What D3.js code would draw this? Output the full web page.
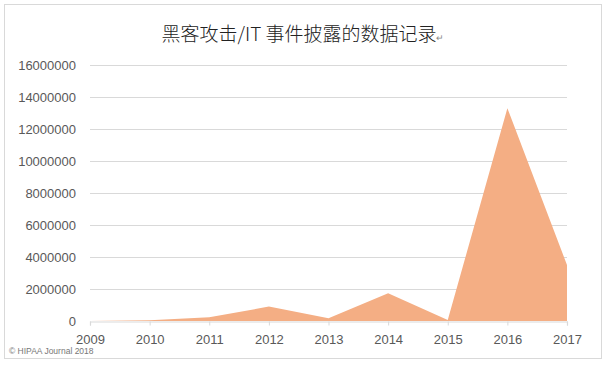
<!DOCTYPE html>
<html>
<head>
<meta charset="utf-8">
<script src="https://cdn.jsdelivr.net/npm/d3@7"></script>
<style>
  body { margin: 0; background: #fff; }
  text { font-family: "Liberation Sans", "DejaVu Sans", sans-serif; }
</style>
</head>
<body>
<div id="chart"></div>
<script>
// data
const years = [2009, 2010, 2011, 2012, 2013, 2014, 2015, 2016, 2017];
const records = [0, 50000, 230000, 900000, 170000, 1730000, 60000, 13300000, 3500000];
const yTicks = [0, 2000000, 4000000, 6000000, 8000000, 10000000, 12000000, 14000000, 16000000];

const width = 607, height = 365;
const margin = {top: 65, right: 40, bottom: 44, left: 90};

let svg = d3.select("#chart")
    .append("svg")
    .attr("width", width)
    .attr("height", height);

// outer frame
svg.append("rect")
    .attr("x", 4.5).attr("y", 4.5)
    .attr("width", 597).attr("height", 354)
    .attr("fill", "#fff")
    .attr("stroke", "#d9d9d9");

let x = d3.scaleLinear()
    .domain([2009, 2017])
    .range([margin.left, width - margin.right]);

let y = d3.scaleLinear()
    .domain([0, 16000000])
    .range([height - margin.bottom, margin.top]);

// gridlines
svg.append("g")
    .selectAll("line")
    .data(yTicks.slice(1))
    .enter()
    .append("line")
    .attr("x1", margin.left)
    .attr("x2", width - margin.right)
    .attr("y1", d => Math.round(y(d)) + 0.5)
    .attr("y2", d => Math.round(y(d)) + 0.5)
    .attr("stroke", "#d9d9d9")
    .attr("stroke-width", 1.2);

// area
let area = d3.area()
    .x((d, i) => x(years[i]))
    .y0(y(0))
    .y1(d => y(d));

svg.append("path")
    .datum(records)
    .attr("d", area)
    .attr("fill", "#f4ae84");

// x axis
let xAxis = svg.append("g")
    .attr("transform", "translate(0," + (Math.round(y(0)) + 0.5) + ")")
    .call(d3.axisBottom(x).tickValues(years).tickFormat(d3.format("d")).tickSizeOuter(0).tickSize(4).tickPadding(9));
xAxis.select(".domain").attr("stroke", "#d9d9d9").attr("stroke-width", 1.2);
xAxis.selectAll(".tick line").attr("stroke", "#d9d9d9");
xAxis.selectAll("text")
    .attr("fill", "#595959")
    .style("font-size", "13px");

// y labels
svg.append("g")
    .selectAll("text")
    .data(yTicks)
    .enter()
    .append("text")
    .attr("x", 76)
    .attr("y", d => y(d))
    .attr("dy", "0.35em")
    .attr("text-anchor", "end")
    .attr("fill", "#595959")
    .style("font-size", "13px")
    .text(d => d);

// title
let title = svg.append("text")
    .attr("x", 303)
    .attr("y", 41)
    .attr("text-anchor", "middle")
    .attr("fill", "#222")
    .style("font-family", "'Noto Sans CJK SC', sans-serif")
    .style("font-weight", 300)
    .style("font-size", "19px");
title.append("tspan").text("黑客攻击/IT 事件披露的数据记录");
title.append("tspan")
    .attr("fill", "#888")
    .style("font-size", "9px")
    .text("↵");

// credit
svg.append("text")
    .attr("x", 9)
    .attr("y", 354)
    .attr("fill", "#777")
    .style("font-size", "8.5px")
    .text("© HIPAA Journal 2018");
</script>
</body>
</html>
